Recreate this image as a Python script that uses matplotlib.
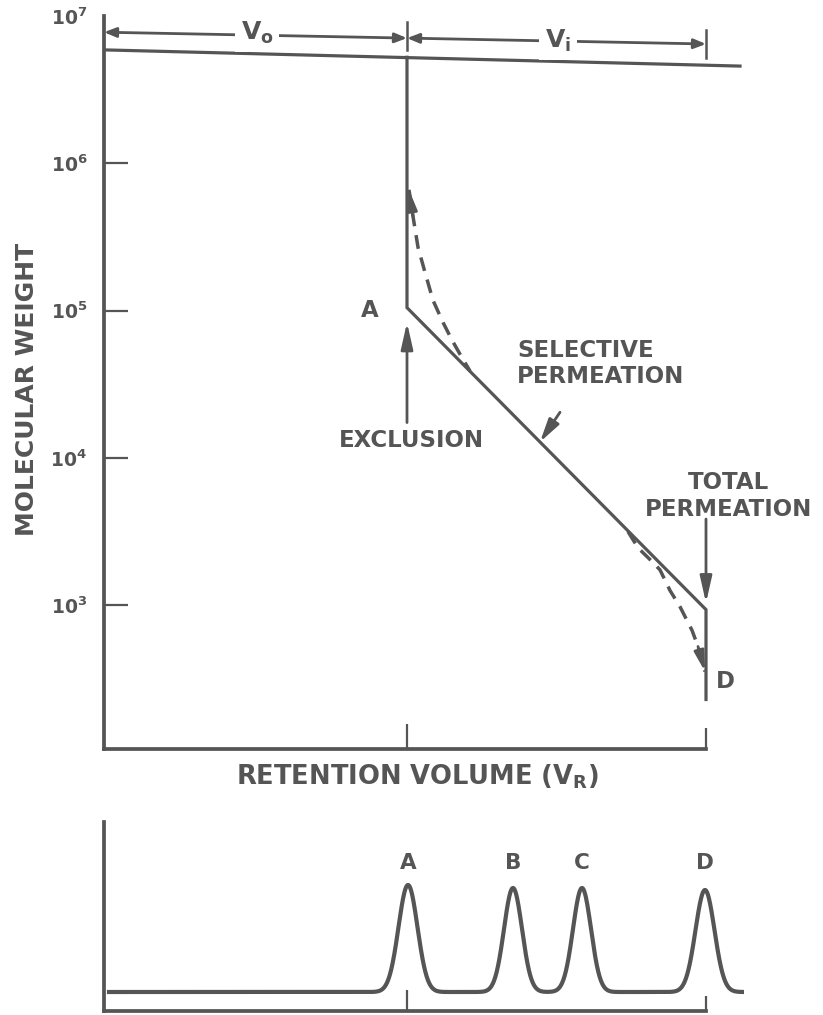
import numpy as np
import matplotlib
matplotlib.use("Agg")
import matplotlib.pyplot as plt
from matplotlib.ticker import NullLocator

plt.rcParams['font.family'] = ['DejaVu Sans']
plt.rcParams['font.weight'] = 'bold'
plt.rcParams['mathtext.fontset'] = 'dejavusans'
plt.rcParams['mathtext.default'] = 'bf'

INK = '#555555'

# retention volumes (x units), exclusion and total permeation limits
V0 = 3.03
VT = 6.02

# calibration curve, log10(molecular weight)
curve_x = [V0, V0, VT, VT]
curve_logmw = [6.72, 5.02, 2.97, 2.36]

# real (dashed) calibration at both ends
upper_dash_x = [3.05, 3.09, 3.14, 3.21, 3.29, 3.39, 3.48, 3.58, 3.66]
upper_dash_logmw = [5.82, 5.64, 5.43, 5.26, 5.07, 4.92, 4.80, 4.68, 4.59]
lower_dash_x = [5.24, 5.34, 5.46, 5.56, 5.66, 5.76, 5.88, 5.94, 6.01]
lower_dash_logmw = [3.50, 3.39, 3.31, 3.24, 3.10, 2.99, 2.83, 2.72, 2.55]

# top exclusion line (slightly skewed in the scan)
top_line_x = [0.0, 6.36]
top_line_logmw = [6.77, 6.66]

# Vo / Vi dimension lines
vo_x = [0.0, V0]
vo_logmw = [6.89, 6.85]
vi_x = [V0, VT]
vi_logmw = [6.85, 6.81]
bar_logmw_v0 = [6.96, 6.77]
bar_logmw_vt = [6.905, 6.715]

ytick_exp = [3, 4, 5, 6, 7]

# chromatogram peaks
peak_names = ['A', 'B', 'C', 'D']
peak_pos = [3.04, 4.09, 4.78, 6.01]
peak_height = [1.07, 1.04, 1.04, 1.02]
peak_sigma = [0.095, 0.09, 0.09, 0.095]
baseline_level = 0.19
trace_start, trace_end = 0.05, 6.58


def arrow(ax, tip, tail, hl=0.7, hw=0.18, lw=2, scale=20, style='-|>'):
    ax.annotate('', xy=tip, xytext=tail,
                arrowprops=dict(arrowstyle='%s,head_length=%s,head_width=%s' % (style, hl, hw),
                                color=INK, lw=lw, shrinkA=0, shrinkB=0,
                                mutation_scale=scale))


fig = plt.figure(figsize=(8.23, 10.15), dpi=100)

# ---------------- calibration plot ----------------
ax = fig.add_axes([104 / 823, 1 - 749 / 1015, 640 / 823, 733 / 1015])
ax.set_yscale('log')
ax.set_xlim(0, 6.4)
ax.set_ylim(10 ** 2.024, 10 ** 7)

lw_main = 2.3
ax.plot(curve_x, [10 ** v for v in curve_logmw], color=INK, lw=lw_main,
        solid_joinstyle='miter')
ax.plot(top_line_x, [10 ** v for v in top_line_logmw], color=INK, lw=lw_main)
for xs, ys in [(upper_dash_x, upper_dash_logmw), (lower_dash_x, lower_dash_logmw)]:
    ax.plot(xs, [10 ** v for v in ys], color=INK, lw=2.5, dashes=(4, 2.6))

# arrowheads at dashed curve ends
arrow(ax, (upper_dash_x[0], 10 ** upper_dash_logmw[0]),
      (upper_dash_x[1], 10 ** upper_dash_logmw[1]), hl=0.6, hw=0.15)
arrow(ax, (lower_dash_x[-1], 10 ** lower_dash_logmw[-1]),
      (lower_dash_x[-2], 10 ** lower_dash_logmw[-2]), hl=0.6, hw=0.15)

# Vo / Vi dimension arrows
arrow(ax, (vo_x[0], 10 ** vo_logmw[0]), (vo_x[1], 10 ** vo_logmw[1]),
      hl=0.45, hw=0.18, scale=16, style='<|-|>')
arrow(ax, (vi_x[0], 10 ** vi_logmw[0]), (vi_x[1], 10 ** vi_logmw[1]),
      hl=0.45, hw=0.18, scale=16, style='<|-|>')
ax.plot([V0, V0], [10 ** v for v in bar_logmw_v0], color=INK, lw=1.8)
ax.plot([VT, VT], [10 ** v for v in bar_logmw_vt], color=INK, lw=1.8)
box = dict(facecolor='white', edgecolor='none', pad=4)
ax.text(1.53, 10 ** 6.885, r'V$_\mathbf{o}$', fontsize=18, color=INK,
        ha='center', va='center', bbox=box)
ax.text(4.54, 10 ** 6.83, r'V$_\mathbf{i}$', fontsize=18, color=INK,
        ha='center', va='center', bbox=box)

# labels and arrows on the curve
txt = dict(fontsize=16.5, color=INK, fontweight='bold')
ax.text(2.66, 10 ** 5.0, 'A', ha='center', va='center', **txt)
ax.text(3.07, 10 ** 4.12, 'EXCLUSION', ha='center', va='center', **txt)
arrow(ax, (V0, 10 ** 4.92), (V0, 10 ** 4.24), hl=0.8)
ax.text(4.13, 10 ** 4.73, 'SELECTIVE', ha='left', va='center', **txt)
ax.text(4.13, 10 ** 4.55, 'PERMEATION', ha='left', va='center', **txt)
sel_tip_x = 4.36
sel_tip = curve_logmw[1] + (curve_logmw[2] - curve_logmw[1]) * (sel_tip_x - V0) / (VT - V0)
arrow(ax, (sel_tip_x, 10 ** sel_tip), (4.56, 10 ** 4.31))
ax.text(6.25, 10 ** 3.83, 'TOTAL', ha='center', va='center', **txt)
ax.text(6.25, 10 ** 3.65, 'PERMEATION', ha='center', va='center', **txt)
arrow(ax, (VT, 10 ** 3.015), (VT, 10 ** 3.585), hl=0.8)
ax.text(6.21, 10 ** 2.48, 'D', ha='center', va='center', **txt)

# axes styling
ax.set_yticks([10 ** e for e in ytick_exp])
ax.set_yticklabels([r'$\mathbf{10^{%d}}$' % e for e in ytick_exp])
ax.yaxis.set_minor_locator(NullLocator())
ax.tick_params(axis='y', direction='in', length=17.5, width=1.6, color=INK,
               pad=12, labelsize=13.5, labelcolor=INK)
ax.yaxis.get_major_ticks()[-1].tick1line.set_visible(False)
ax.set_xticks([V0, VT])
ax.set_xticklabels(['', ''])
ax.tick_params(axis='x', direction='in', width=1.6, color=INK)
ax.xaxis.get_major_ticks()[0].tick1line.set_markersize(18)
ax.xaxis.get_major_ticks()[1].tick1line.set_markersize(15)
for s in ['top', 'right']:
    ax.spines[s].set_visible(False)
for s in ['left', 'bottom']:
    ax.spines[s].set_color(INK)
    ax.spines[s].set_linewidth(2.7)
ax.spines['bottom'].set_bounds(0, VT)

fig.text(27 / 823, 1 - 389 / 1015, 'MOLECULAR WEIGHT', rotation=90,
         ha='center', va='center', fontsize=18, color=INK, fontweight='bold')
fig.text(418 / 823, 1 - 777 / 1015, r'RETENTION VOLUME (V$_\mathbf{R}$)',
         ha='center', va='center', fontsize=18.5, color=INK, fontweight='bold')

# ---------------- chromatogram ----------------
ax2 = fig.add_axes([104 / 823, 1 - 1011 / 1015, 640 / 823, 189 / 1015])
ax2.set_xlim(0, 6.4)
ax2.set_ylim(0, 1.89)
xs = np.linspace(trace_start, trace_end, 1500)
trace = np.full_like(xs, baseline_level)
for c, h, s in zip(peak_pos, peak_height, peak_sigma):
    trace += h * np.exp(-0.5 * ((xs - c) / s) ** 2)
ax2.plot(xs, trace, color=INK, lw=3.0)
for name, c in zip(peak_names, peak_pos):
    ax2.text(c, 1.48, name, ha='center', va='center', fontsize=15.5, color=INK,
             fontweight='bold')

ax2.set_yticks([])
ax2.set_xticks([V0, VT])
ax2.set_xticklabels(['', ''])
ax2.tick_params(axis='x', direction='in', width=1.6, color=INK)
ax2.xaxis.get_major_ticks()[0].tick1line.set_markersize(15)
ax2.xaxis.get_major_ticks()[1].tick1line.set_markersize(11)
for s in ['top', 'right']:
    ax2.spines[s].set_visible(False)
for s in ['left', 'bottom']:
    ax2.spines[s].set_color(INK)
    ax2.spines[s].set_linewidth(2.7)
ax2.spines['bottom'].set_bounds(0, VT)

fig.savefig('out.png', dpi=100)
